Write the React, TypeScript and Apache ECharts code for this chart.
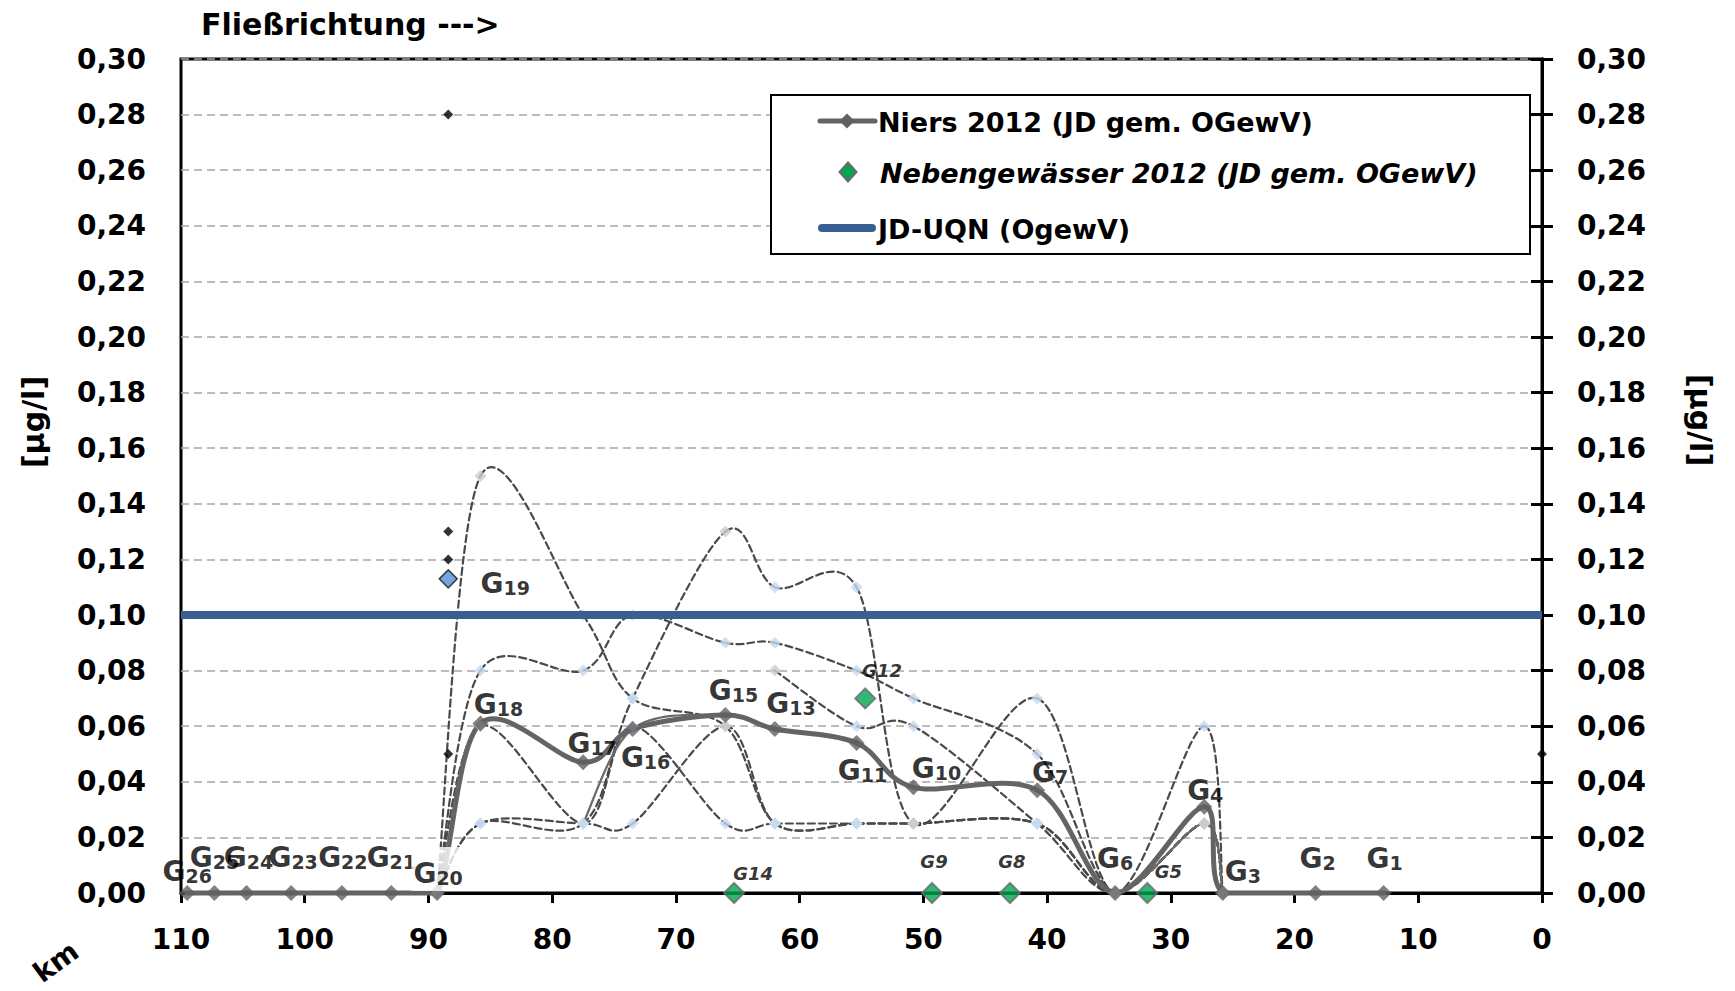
import React, { useEffect, useRef } from 'react';
import * as echarts from 'echarts';

const FONT = '"DejaVu Sans", "Liberation Sans", sans-serif';

// Niers stations: river kilometre, annual mean 2012 [µg/l], station number
const niersKm = [109.5, 107.3, 104.7, 101.1, 97.0, 93.0, 89.3, 85.8, 77.5, 73.5, 66.0, 62.0, 55.4, 50.8, 40.8, 34.5, 27.3, 25.8, 18.3, 12.8];
const niersValues = [0, 0, 0, 0, 0, 0, 0, 0.061, 0.047, 0.059, 0.064, 0.059, 0.054, 0.038, 0.037, 0, 0.031, 0, 0, 0];
const niersStations = ['26', '25', '24', '23', '22', '21', '20', '18', '17', '16', '15', '13', '11', '10', '7', '6', '4', '3', '2', '1'];

// Tributaries (Nebengewässer) 2012
const tribKm = [65.3, 54.7, 49.3, 43.0, 31.9];
const tribValues = [0, 0.07, 0, 0, 0];
const tribStations = ['G14', 'G12', 'G9', 'G8', 'G5'];

// Station G19
const g19Km = [88.4];
const g19Values = [0.113];

// Individual values (small black diamonds)
const singleKm = [88.4, 88.4, 88.4, 88.4, 0];
const singleValues = [0.28, 0.13, 0.12, 0.05, 0.05];

// Environmental quality standard JD-UQN
const uqnKm = [110, 0];
const uqnValue = 0.1;

// Longitudinal profiles (dashed curves), one value per profile station (null = no value)
const profileKm = [89.3, 85.8, 77.5, 73.5, 66.0, 62.0, 55.4, 50.8, 40.8, 34.5, 27.3, 25.8];
const profile1 = [0, 0.15, 0.10, 0.07, 0.06, 0.025, 0.025, 0.025, 0.025, 0, 0.025, 0];
const profile2 = [0, 0.08, 0.08, 0.10, 0.09, 0.09, 0.08, 0.07, 0.05, 0, 0.025, 0];
const profile3 = [0, 0.025, 0.025, 0.07, 0.13, 0.11, 0.11, 0.025, 0.07, 0, 0.06, 0];
const profile4 = [0, 0.025, 0.025, 0.025, 0.06, 0.025, 0.025, 0.025, 0.025, 0, 0.025, 0];
const profile5 = [0, 0.06, 0.025, 0.06, 0.025, 0.025, 0.025, 0.025, 0.025, 0, 0.025, 0];
const profile6 = [null, null, null, null, null, 0.08, 0.06, 0.06, 0.025, 0, 0.025, 0];
// thin solid profile
const profile7 = [null, null, 0.025, 0.059, 0.064, 0.059, 0.054, 0.038, 0.037, 0, 0.025, 0];

// marker shade per profile point: b = light blue, g = light grey
const profile1Shade = ['b', 'g', 'b', 'b', 'g', 'b', 'b', 'g', 'b', 'b', 'g', 'b'];
const profile2Shade = ['b', 'b', 'b', 'b', 'b', 'b', 'b', 'b', 'b', 'b', 'g', 'b'];
const profile3Shade = ['b', 'b', 'b', 'b', 'g', 'b', 'b', 'g', 'b', 'b', 'b', 'b'];
const profile4Shade = ['b', 'b', 'b', 'b', 'g', 'b', 'b', 'g', 'b', 'b', 'g', 'b'];
const profile5Shade = ['b', 'b', 'b', 'b', 'b', 'b', 'b', 'g', 'b', 'b', 'g', 'b'];
const profile6Shade = ['b', 'b', 'b', 'b', 'b', 'g', 'b', 'b', 'b', 'b', 'g', 'b'];

// label placement relative to the marker centre [dx, dy] in px
const niersLabelOffsets = [
  [0, -22], [0, -36], [2, -36], [2, -36], [1, -36], [0, -36], [1, -24],
  [18, -19], [9, -19], [13, 29], [8, -25], [16, -25], [6, 28], [23, -19],
  [13, -18], [0, -35], [1, -16], [20, -22], [2, -35], [1, -35],
];
const tribLabelOffsets = [[19, -20], [17, -28], [2, -32], [2, -32], [21, -22]];
const g19LabelOffset = [57, 5];

const DASH_LINE = { stroke: '#4a4a4a', lineWidth: 2.2, lineDash: [7, 4] };

// Smooth curve through the points (Catmull-Rom bezier segments), never dipping below zero
function curveSeries(xs: number[], ys: (number | null)[], style: any) {
  const data: number[][] = [];
  xs.forEach((x, i) => {
    const y = ys[i];
    if (y !== null && y !== undefined) data.push([x, y]);
  });
  return {
    type: 'custom',
    silent: true,
    data,
    encode: { x: 0, y: 1 },
    renderItem: (params: any, api: any) => {
      const i = params.dataIndex;
      const n = data.length;
      if (i >= n - 1) return { type: 'group', children: [] };
      const pt = (k: number) => api.coord(data[Math.max(0, Math.min(n - 1, k))]);
      const p0 = pt(i - 1);
      const p1 = pt(i);
      const p2 = pt(i + 1);
      const p3 = pt(i + 2);
      const floor = api.coord([0, 0])[1];
      return {
        type: 'bezierCurve',
        shape: {
          x1: p1[0],
          y1: p1[1],
          x2: p2[0],
          y2: p2[1],
          cpx1: p1[0] + (p2[0] - p0[0]) / 6,
          cpy1: Math.min(floor, p1[1] + (p2[1] - p0[1]) / 6),
          cpx2: p2[0] - (p3[0] - p1[0]) / 6,
          cpy2: Math.min(floor, p2[1] - (p3[1] - p1[1]) / 6),
        },
        style: { fill: 'none', lineCap: 'round', lineJoin: 'round', ...style },
      };
    },
  };
}

function profileMarkers(ys: (number | null)[], shades: string[]) {
  const data: any[] = [];
  profileKm.forEach((x, i) => {
    const y = ys[i];
    if (y === null || y === undefined) return;
    data.push({ value: [x, y], itemStyle: { color: shades[i] === 'g' ? '#cccccc' : '#c6d9f1' } });
  });
  return {
    type: 'scatter',
    silent: true,
    symbol: 'diamond',
    symbolSize: 12,
    data,
  };
}

const yFmt = (v: number) => v.toFixed(2).replace('.', ',');

const yAxisBase: any = {
  type: 'value',
  min: 0,
  max: 0.3,
  interval: 0.02,
  axisLine: { show: true, lineStyle: { color: '#000', width: 3 } },
  axisTick: { show: true, inside: false, length: 11, lineStyle: { color: '#000', width: 3 } },
  axisLabel: {
    formatter: yFmt,
    fontSize: 28,
    fontWeight: 'bold',
    fontFamily: FONT,
    color: '#000',
    margin: 35,
  },
};

const diamond = (cx: number, cy: number, w: number, h: number) => [
  [cx, cy - h / 2],
  [cx + w / 2, cy],
  [cx, cy + h / 2],
  [cx - w / 2, cy],
];

const legendText = (x: number, y: number, text: string, italic = false) => ({
  type: 'text',
  x,
  y,
  z: 101,
  style: {
    text,
    fontSize: 27,
    fontWeight: 'bold',
    fontStyle: italic ? 'italic' : 'normal',
    fontFamily: FONT,
    fill: '#000',
    align: 'left',
    verticalAlign: 'middle',
  },
});

const gRich = {
  g: { fontSize: 28, fontWeight: 'bold', fontFamily: FONT, color: '#000', verticalAlign: 'bottom' },
  s: { fontSize: 19, fontWeight: 'bold', fontFamily: FONT, color: '#000', verticalAlign: 'bottom' },
};

const option: any = {
  animation: false,
  backgroundColor: '#fff',
  textStyle: { fontFamily: FONT },
  grid: {
    left: 181,
    right: 193,
    top: 59,
    bottom: 98,
    show: true,
    borderColor: '#000',
    borderWidth: 3,
    backgroundColor: 'transparent',
  },
  xAxis: {
    type: 'value',
    min: 0,
    max: 110,
    interval: 10,
    inverse: true,
    axisLine: { show: true, onZero: false, lineStyle: { color: '#000', width: 3 } },
    axisTick: { show: true, inside: false, length: 10, lineStyle: { color: '#000', width: 3 } },
    axisLabel: { fontSize: 28, fontWeight: 'bold', fontFamily: FONT, color: '#000', margin: 32 },
    splitLine: { show: false },
  },
  yAxis: [
    {
      ...yAxisBase,
      position: 'left',
      splitLine: { show: true, lineStyle: { color: '#a6a6a6', width: 1.5, type: [8, 5] } },
    },
    { ...yAxisBase, position: 'right', splitLine: { show: false } },
  ],
  graphic: [
    {
      type: 'text',
      x: 201,
      y: 24,
      style: {
        text: 'Fließrichtung --->',
        fontSize: 30,
        fontWeight: 'bold',
        fontFamily: FONT,
        fill: '#000',
        align: 'left',
        verticalAlign: 'middle',
      },
    },
    {
      type: 'text',
      x: 33,
      y: 422,
      rotation: Math.PI / 2,
      style: {
        text: '[µg/l]',
        fontSize: 30,
        fontWeight: 'bold',
        fontFamily: FONT,
        fill: '#000',
        align: 'center',
        verticalAlign: 'middle',
      },
    },
    {
      type: 'text',
      x: 1700,
      y: 420,
      rotation: -Math.PI / 2,
      style: {
        text: '[µg/l]',
        fontSize: 30,
        fontWeight: 'bold',
        fontFamily: FONT,
        fill: '#000',
        align: 'center',
        verticalAlign: 'middle',
      },
    },
    {
      type: 'text',
      x: 56,
      y: 962,
      rotation: 0.63,
      style: {
        text: 'km',
        fontSize: 28,
        fontWeight: 'bold',
        fontFamily: FONT,
        fill: '#000',
        align: 'center',
        verticalAlign: 'middle',
      },
    },
    // legend
    {
      type: 'rect',
      z: 100,
      shape: { x: 771, y: 95, width: 759, height: 159 },
      style: { fill: '#fff', stroke: '#000', lineWidth: 2 },
    },
    {
      type: 'line',
      z: 101,
      shape: { x1: 820, y1: 121, x2: 875, y2: 121 },
      style: { stroke: '#646464', lineWidth: 5, lineCap: 'round' },
    },
    {
      type: 'polygon',
      z: 102,
      shape: { points: diamond(847, 121, 15, 15) },
      style: { fill: '#606060' },
    },
    legendText(878, 122, 'Niers 2012 (JD gem. OGewV)'),
    {
      type: 'polygon',
      z: 101,
      shape: { points: diamond(848, 172, 17, 19) },
      style: { fill: '#00a651', stroke: '#6a6a6a', lineWidth: 2 },
    },
    legendText(880, 173, 'Nebengewässer 2012 (JD gem. OGewV)', true),
    {
      type: 'line',
      z: 101,
      shape: { x1: 822, y1: 228, x2: 872, y2: 228 },
      style: { stroke: '#376092', lineWidth: 8, lineCap: 'round' },
    },
    legendText(878, 229, 'JD-UQN (OgewV)'),
  ],
  series: [
    curveSeries(profileKm, profile1, DASH_LINE),
    profileMarkers(profile1, profile1Shade),
    curveSeries(profileKm, profile2, DASH_LINE),
    profileMarkers(profile2, profile2Shade),
    curveSeries(profileKm, profile3, DASH_LINE),
    profileMarkers(profile3, profile3Shade),
    curveSeries(profileKm, profile4, DASH_LINE),
    profileMarkers(profile4, profile4Shade),
    curveSeries(profileKm, profile5, DASH_LINE),
    profileMarkers(profile5, profile5Shade),
    curveSeries(profileKm, profile6, DASH_LINE),
    profileMarkers(profile6, profile6Shade),
    curveSeries(profileKm, profile7, { stroke: '#6a6a6a', lineWidth: 2.2 }),
    {
      type: 'line',
      name: 'JD-UQN (OgewV)',
      silent: true,
      symbol: 'none',
      data: uqnKm.map((x) => [x, uqnValue]),
      lineStyle: { color: '#376092', width: 8 },
    },
    curveSeries(niersKm, niersValues, { stroke: '#646464', lineWidth: 5 }),
    {
      type: 'scatter',
      name: 'Niers 2012 (JD gem. OGewV)',
      silent: true,
      symbol: 'diamond',
      symbolSize: 16,
      itemStyle: { color: '#606060' },
      data: niersKm.map((x, i) => {
        const item: any = { value: [x, niersValues[i]], label: { offset: niersLabelOffsets[i] } };
        // G20's label box is opaque and covers the foot of the rising curves
        if (niersStations[i] === '20') {
          item.label.backgroundColor = '#fff';
          item.label.padding = [12, 2, 4, 2];
        }
        return item;
      }),
      label: {
        show: true,
        position: 'inside',
        formatter: (p: any) => `{g|G}{s|${niersStations[p.dataIndex]}}`,
        rich: gRich,
      },
    },
    {
      type: 'scatter',
      silent: true,
      symbol: 'diamond',
      symbolSize: 18,
      itemStyle: { color: '#558ed5', borderColor: '#1a1a1a', borderWidth: 1.5 },
      data: g19Km.map((x, i) => ({ value: [x, g19Values[i]], label: { offset: g19LabelOffset } })),
      label: {
        show: true,
        position: 'inside',
        formatter: () => '{g|G}{s|19}',
        rich: gRich,
      },
    },
    {
      type: 'scatter',
      silent: true,
      symbol: 'diamond',
      symbolSize: 10,
      itemStyle: { color: '#000' },
      data: singleKm.map((x, i) => [x, singleValues[i]]),
    },
    {
      type: 'scatter',
      name: 'Nebengewässer 2012 (JD gem. OGewV)',
      silent: true,
      symbol: 'diamond',
      symbolSize: 20,
      itemStyle: { color: '#00a651', borderColor: '#6a6a6a', borderWidth: 2 },
      data: tribKm.map((x, i) => ({
        value: [x, tribValues[i]],
        label: { offset: tribLabelOffsets[i] },
      })),
      label: {
        show: true,
        position: 'inside',
        formatter: (p: any) => tribStations[p.dataIndex],
        fontSize: 18,
        fontWeight: 'bold',
        fontStyle: 'italic',
        fontFamily: FONT,
        color: '#000',
      },
    },
  ],
};

export default function App() {
  const ref = useRef<HTMLDivElement>(null);
  useEffect(() => {
    const chart = echarts.init(ref.current as HTMLDivElement, null, { renderer: 'svg' });
    chart.setOption(option);
    return () => chart.dispose();
  }, []);
  return (
    <div
      ref={ref}
      style={{ position: 'fixed', left: 0, top: 0, width: 1735, height: 991, background: '#fff' }}
    />
  );
}
